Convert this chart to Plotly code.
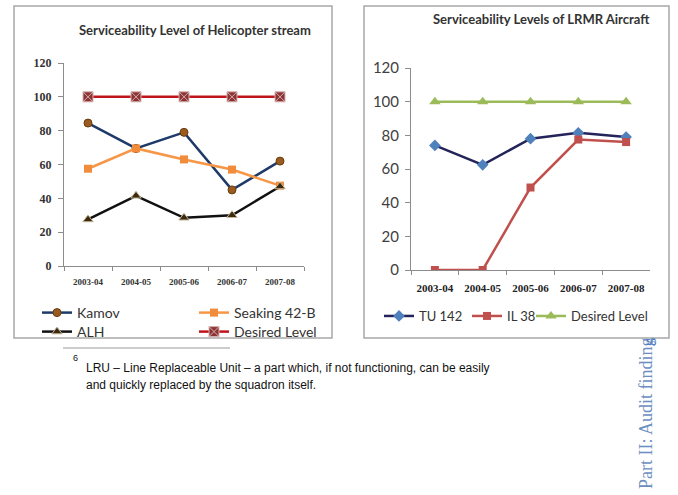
import plotly.graph_objects as go

W, H = 678, 495

years = ["2003-04", "2004-05", "2005-06", "2006-07", "2007-08"]
y_ticks = [0, 20, 40, 60, 80, 100, 120]

# Helicopter stream
kamov = [84.5, 69.5, 79, 45, 62]
seaking = [57.5, 69.5, 63, 57, 47.5]
alh = [27.5, 41.5, 28.5, 30, 47]
desired_heli = [100, 100, 100, 100, 100]

# LRMR aircraft
tu142 = [74, 62.5, 78, 81.5, 79]
il38 = [0, 0, 49, 77.5, 76]
desired_lrmr = [100, 100, 100, 100, 100]

title_left = "Serviceability Level of Helicopter stream"
title_right = "Serviceability Levels of LRMR Aircraft"
footnote_num = "6"
footnote_l1 = "LRU \u2013 Line Replaceable Unit \u2013 a part which, if not functioning, can be easily"
footnote_l2 = "and quickly replaced by the squadron itself."
side_text = "Part II: Audit finding"
page_num = "56"


def px(x):
    return x / W


def py(y):
    return 1 - y / H


fig = go.Figure()

# Left chart traces
fig.add_trace(go.Scatter(x=years, y=kamov, name="Kamov", mode="lines+markers",
                         line=dict(color="#1F3A68", width=2.5),
                         marker=dict(symbol="circle", size=8, color="#9A5B1E", line=dict(color="#6b3c10", width=1)),
                         xaxis="x", yaxis="y", legend="legend"))
fig.add_trace(go.Scatter(x=years, y=seaking, name="Seaking 42-B", mode="lines+markers",
                         line=dict(color="#F79646", width=2.5),
                         marker=dict(symbol="square", size=8, color="#F08C3C"),
                         xaxis="x", yaxis="y", legend="legend2"))
fig.add_trace(go.Scatter(x=years, y=alh, name="ALH", mode="lines+markers",
                         line=dict(color="#111111", width=2.5),
                         marker=dict(symbol="triangle-up", size=9, color="#3B2A10", line=dict(color="#c8b89a", width=1)),
                         xaxis="x", yaxis="y", legend="legend3"))
fig.add_trace(go.Scatter(x=years, y=desired_heli, name="Desired Level", mode="lines+markers",
                         line=dict(color="#C0141C", width=2.5),
                         marker=dict(symbol="square-x", size=10, color="#8A3434", line=dict(color="#d8b0b0", width=1)),
                         xaxis="x", yaxis="y", legend="legend4"))

# Right chart traces
fig.add_trace(go.Scatter(x=years, y=tu142, name="TU 142", mode="lines+markers",
                         line=dict(color="#24245A", width=2.5),
                         marker=dict(symbol="diamond", size=9, color="#4F81BD"),
                         xaxis="x2", yaxis="y2", legend="legend5"))
fig.add_trace(go.Scatter(x=years, y=il38, name="IL 38", mode="lines+markers",
                         line=dict(color="#C0504D", width=2.5),
                         marker=dict(symbol="square", size=8, color="#C0504D"),
                         xaxis="x2", yaxis="y2", legend="legend6"))
fig.add_trace(go.Scatter(x=years, y=desired_lrmr, name="Desired Level", mode="lines+markers",
                         line=dict(color="#9BBB59", width=2.5),
                         marker=dict(symbol="triangle-up", size=10, color="#9BBB59"),
                         xaxis="x2", yaxis="y2", legend="legend7"))

axis_common = dict(showgrid=False, zeroline=False, showline=True, linecolor="#8c8c8c", linewidth=1,
                   ticks="outside", tickcolor="#8c8c8c", fixedrange=True, automargin=False)


def leg(x, y, size=14):
    return dict(x=px(x), y=py(y), xanchor="left", yanchor="middle", orientation="v",
                font=dict(family="Lato", size=size, color="#333333"),
                bgcolor="rgba(0,0,0,0)", borderwidth=0, itemwidth=30)


fig.update_layout(
    width=W, height=H,
    margin=dict(l=0, r=0, t=0, b=0, autoexpand=False),
    paper_bgcolor="white", plot_bgcolor="white",
    showlegend=True,
    xaxis=dict(domain=[px(64), px(304)], anchor="y", type="category", tickson="boundaries",
               range=[-0.5, 4.5], ticklen=4, ticklabelstandoff=7,
               tickfont=dict(family="Liberation Serif", size=9, color="#333333", weight="bold"),
               **axis_common),
    yaxis=dict(domain=[py(266), py(63)], anchor="x", range=[0, 120], tickvals=y_ticks, ticklen=5,
               ticklabelstandoff=4,
               tickfont=dict(family="Liberation Serif", size=12, color="#333333", weight="bold"),
               **axis_common),
    xaxis2=dict(domain=[px(411), px(650)], anchor="y2", type="category", tickson="boundaries",
                range=[-0.5, 4.5], ticklen=4, ticklabelstandoff=8,
                tickfont=dict(family="Liberation Serif", size=11, color="#222222", weight="bold"),
                **axis_common),
    yaxis2=dict(domain=[py(270), py(68)], anchor="x2", range=[0, 120], tickvals=y_ticks, ticklen=5,
                ticklabelstandoff=3,
                tickfont=dict(family="Lato", size=15, color="#404040"),
                **axis_common),
    legend=leg(37, 313),
    legend2=leg(194, 313),
    legend3=leg(37, 332),
    legend4=leg(194, 332),
    legend5=leg(379, 316, 13),
    legend6=leg(467, 316, 13),
    legend7=leg(531, 316, 13),
    shapes=[
        dict(type="rect", xref="paper", yref="paper", x0=px(14), x1=px(332), y0=py(338), y1=py(6),
             line=dict(color="#a8a8a8", width=1.5)),
        dict(type="rect", xref="paper", yref="paper", x0=px(364), x1=px(669), y0=py(338), y1=py(6),
             line=dict(color="#a8a8a8", width=1.5)),
        dict(type="line", xref="paper", yref="paper", x0=px(63), x1=px(230), y0=py(348), y1=py(348),
             line=dict(color="#999999", width=1)),
    ],
    annotations=[
        dict(text="<b>" + title_left + "</b>", x=px(195), y=py(30), xref="paper", yref="paper",
             showarrow=False, xanchor="center", yanchor="middle",
             font=dict(family="Lato", size=13, color="#333333")),
        dict(text="<b>" + title_right + "</b>", x=px(541), y=py(19), xref="paper", yref="paper",
             showarrow=False, xanchor="center", yanchor="middle",
             font=dict(family="Lato", size=13, color="#333333")),
        dict(text=footnote_num, x=px(71), y=py(358), xref="paper", yref="paper",
             showarrow=False, xanchor="left", yanchor="middle",
             font=dict(family="Liberation Sans", size=9, color="#111111")),
        dict(text=footnote_l1, x=px(84), y=py(368), xref="paper", yref="paper",
             showarrow=False, xanchor="left", yanchor="middle", align="left",
             font=dict(family="Liberation Sans", size=12, color="#111111")),
        dict(text=footnote_l2, x=px(84), y=py(385), xref="paper", yref="paper",
             showarrow=False, xanchor="left", yanchor="middle", align="left",
             font=dict(family="Liberation Sans", size=12, color="#111111")),
        dict(text=side_text, x=px(646), y=py(413), xref="paper", yref="paper", textangle=-90,
             showarrow=False, xanchor="center", yanchor="middle",
             font=dict(family="Liberation Serif", size=18, color="#6C8EBF")),
        dict(text=page_num, x=px(651), y=py(342), xref="paper", yref="paper",
             showarrow=False, xanchor="center", yanchor="middle",
             font=dict(family="Liberation Sans", size=9, color="#4472C4")),
    ],
)

fig.write_html("out.html", config={"displayModeBar": False},
               post_script="document.body.style.margin='0';")
